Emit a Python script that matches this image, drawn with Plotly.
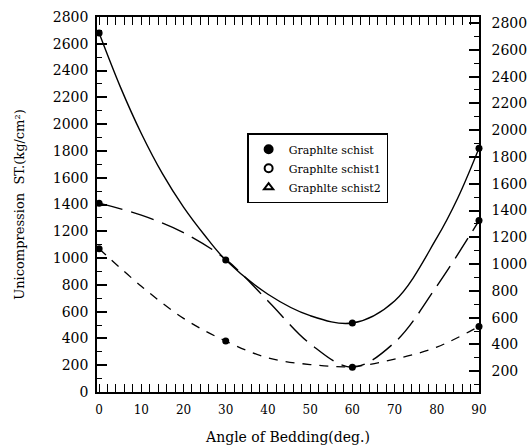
import plotly.graph_objects as go

# Curve readings (deg, kg/cm^2)
solid_x = [0, 5, 10, 15, 20, 25, 30, 40, 50, 60, 70, 80, 85, 90]
solid_y = [2680, 2280, 1930, 1630, 1380, 1170, 985, 730, 570, 515, 680, 1150, 1450, 1820]

long_x = [0, 10, 20, 30, 40, 50, 60, 70, 80, 90]
long_y = [1410, 1320, 1190, 990, 680, 360, 185, 370, 790, 1280]

short_x = [0, 10, 20, 30, 40, 50, 60, 70, 80, 90]
short_y = [1070, 790, 550, 380, 255, 205, 190, 245, 335, 490]

# Measured points
solid_px = [0, 30, 60, 90]
solid_py = [2680, 985, 515, 1820]
long_px = [0, 60, 90]
long_py = [1410, 185, 1280]
short_px = [0, 30, 90]
short_py = [1070, 380, 490]

names = ["Graphlte schist", "Graphlte schist1", "Graphlte schist2"]
symbols = ["circle", "circle-open", "triangle-up-open"]

FONT = "DejaVu Serif"
fig = go.Figure()

fig.add_trace(go.Scatter(x=solid_x, y=solid_y, mode="lines", cliponaxis=False,
                         line=dict(color="black", width=1.4, shape="spline"), showlegend=False))
fig.add_trace(go.Scatter(x=long_x, y=long_y, mode="lines", cliponaxis=False,
                         line=dict(color="black", width=1.4, shape="spline", dash="24px,9px"), showlegend=False))
fig.add_trace(go.Scatter(x=short_x, y=short_y, mode="lines", cliponaxis=False,
                         line=dict(color="black", width=1.3, shape="spline", dash="9px,8px"), showlegend=False))

for px, py in [(solid_px, solid_py), (long_px, long_py), (short_px, short_py)]:
    fig.add_trace(go.Scatter(x=px, y=py, mode="markers", cliponaxis=False,
                             marker=dict(color="black", size=7), showlegend=False))

for n, s in zip(names, symbols):
    fig.add_trace(go.Scatter(x=[None], y=[None], mode="markers", name=n,
                             marker=dict(color="black", size=8, symbol=s, line=dict(color="black", width=2))))

# dummy trace to activate right axis
fig.add_trace(go.Scatter(x=[None], y=[None], yaxis="y2", showlegend=False))

fig.update_layout(
    width=528, height=447,
    margin=dict(l=97, r=49, t=17, b=55, autoexpand=False),
    paper_bgcolor="white", plot_bgcolor="white",
    font=dict(family=FONT, color="black"),
    showlegend=True,
    legend=dict(x=0.393, y=0.69, xanchor="left", yanchor="top",
                bordercolor="black", borderwidth=1.5, bgcolor="white",
                font=dict(size=11, family=FONT, color="black"), itemwidth=30,
                tracegroupgap=0),
    xaxis=dict(range=[-0.5, 90], tickvals=[0, 10, 20, 30, 40, 50, 60, 70, 80, 90],
               ticks="inside", ticklen=8, tickwidth=1.3, tickcolor="black",
               minor=dict(dtick=2, ticks="inside", ticklen=4, tickcolor="black", tickwidth=1),
               showline=True, linecolor="black", linewidth=1.5, mirror="allticks",
               showgrid=False, zeroline=False, ticklabelstandoff=6, automargin=False,
               tickfont=dict(size=12, family=FONT, color="black"),
               title=dict(text="Angle of Bedding(deg.)", font=dict(size=14, family=FONT, color="black"), standoff=16)),
    yaxis=dict(range=[0, 2800], dtick=200,
               ticks="inside", ticklen=10, tickwidth=1.5, tickcolor="black",
               minor=dict(dtick=100, ticks="inside", ticklen=5, tickcolor="black", tickwidth=1),
               showline=True, linecolor="black", linewidth=1.5, mirror=True,
               showgrid=False, zeroline=False, ticklabelstandoff=4, automargin=False,
               tickfont=dict(size=14, family=FONT, color="black"),
               title=dict(text="Unicompression  ST.(kg/cm²)", font=dict(size=13, family=FONT, color="black"), standoff=25)),
    yaxis2=dict(range=[45, 2845], dtick=200, overlaying="y", side="right",
                ticks="inside", ticklen=10, tickwidth=1.5, tickcolor="black",
                minor=dict(dtick=100, ticks="inside", ticklen=5, tickcolor="black", tickwidth=1),
                showline=True, linecolor="black", linewidth=1.5,
                showgrid=False, zeroline=False, ticklabelstandoff=8, automargin=False,
                tickfont=dict(size=14, family=FONT, color="black")),
)

fig.write_html("out.html")
